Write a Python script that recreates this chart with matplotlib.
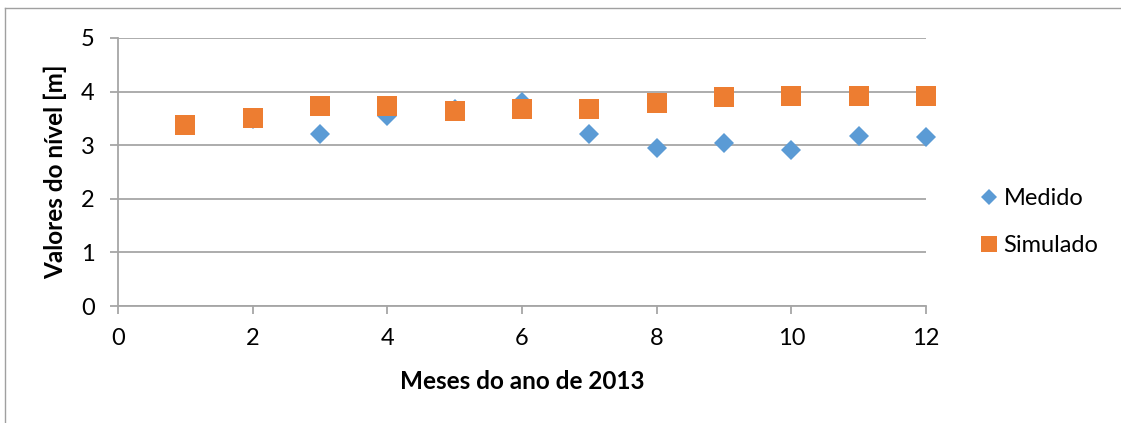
import matplotlib
matplotlib.use("Agg")
import matplotlib.pyplot as plt
from matplotlib.lines import Line2D

months = [1, 2, 3, 4, 5, 6, 7, 8, 9, 10, 11, 12]
medido = [3.37, 3.49, 3.21, 3.54, 3.67, 3.80, 3.20, 2.95, 3.04, 2.91, 3.18, 3.15]
simulado = [3.37, 3.51, 3.73, 3.73, 3.64, 3.68, 3.68, 3.78, 3.89, 3.92, 3.91, 3.92]
x_ticks = [0, 2, 4, 6, 8, 10, 12]
y_ticks = [0, 1, 2, 3, 4, 5]

plt.rcParams['font.family'] = ['Lato', 'DejaVu Sans']

W, H = 1121, 423
fig = plt.figure(figsize=(W / 100, H / 100), dpi=100)
ax = fig.add_axes([118 / W, 1 - 306 / H, (926 - 118) / W, (306 - 38) / H])

grid_c = '#A6A6A6'
blue = '#5B9BD5'
orange = '#ED7D31'

ax.plot(months, medido, linestyle='none', marker='D', markersize=9.7,
        color=blue, markeredgewidth=0, label='Medido', zorder=3, clip_on=False)
ax.plot(months, simulado, linestyle='none', marker='s', markersize=14.4,
        color=orange, markeredgewidth=0, label='Simulado', zorder=4, clip_on=False)

ax.set_xlim(0, 12)
ax.set_ylim(0, 5)
ax.set_xticks(x_ticks)
ax.set_yticks(y_ticks)
ax.yaxis.grid(True, color=grid_c, linewidth=1.3)
ax.set_axisbelow(True)
for s in ['top', 'right']:
    ax.spines[s].set_visible(False)
for s in ['left', 'bottom']:
    ax.spines[s].set_color(grid_c)
    ax.spines[s].set_linewidth(1.3)
ax.tick_params(axis='both', colors=grid_c, labelcolor='black', labelsize=17,
               length=5.8, width=1.3, direction='out')
ax.tick_params(axis='x', pad=10)
ax.tick_params(axis='y', pad=11)

ax.set_xlabel('Meses do ano de 2013', fontsize=17.5, fontweight='bold', labelpad=15)
# y-axis title centred on the plot height
fig.text(55 / W, 1 - 172 / H, 'Valores do nível [m]', rotation=90,
         ha='center', va='center', fontsize=17.5, fontweight='bold')

leg = ax.legend(loc='center left', bbox_to_anchor=(981 / W, 1 - 222 / H),
                bbox_transform=fig.transFigure, frameon=False, fontsize=17,
                handletextpad=0.25, labelspacing=1.12, handlelength=0.7,
                borderpad=0, borderaxespad=0, markerscale=0.8)

# outer chart frame (left and top edges)
frame_c = '#A0A0A0'
fig.add_artist(Line2D([5 / W, 5 / W], [0, 1 - 8 / H], transform=fig.transFigure,
                      color=frame_c, linewidth=1.0))
fig.add_artist(Line2D([5 / W, 1], [1 - 8 / H, 1 - 8 / H], transform=fig.transFigure,
                      color=frame_c, linewidth=1.0))

fig.savefig('out.png', dpi=100)
